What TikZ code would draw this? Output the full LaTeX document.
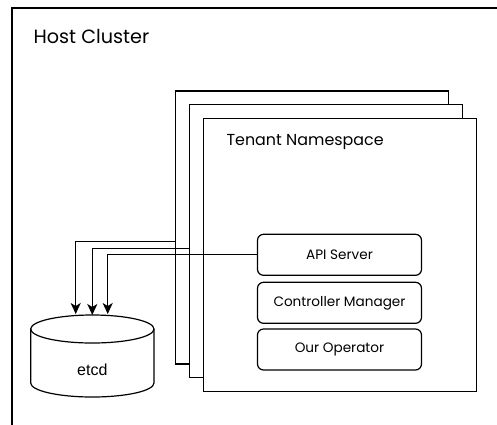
\documentclass[tikz,border=0pt]{standalone}
\usepackage{fontspec}
\setmainfont{Poppins}
\newfontfamily\etcdfont{Liberation Sans}
\usetikzlibrary{arrows.meta}
\begin{document}
\begin{tikzpicture}[x=1pt,y=-1pt,
  line width=1.2pt,
  ns/.style={draw, fill=white, minimum width=273pt, minimum height=273pt, inner sep=0pt},
  comp/.style={draw, fill=white, rounded corners=6pt, minimum width=164pt, minimum height=41pt, inner sep=0pt, font=\fontsize{13.6}{15}\selectfont},
  arr/.style={-{Stealth[length=11pt,width=10pt,inset=3pt]}, line width=1.2pt},
  lbl/.style={anchor=base west, inner sep=0pt}]
\useasboundingbox (0,0) rectangle (497,424);
\clip (0,0) rectangle (497,424);
\fill[white] (0,0) rectangle (497,424);
% host cluster
\draw (12,8) rectangle (520,450);
\node[lbl, font=\fontsize{19.2}{21}\selectfont] (host) at (33,43) {Host Cluster};
% tenant namespaces
\node[ns] (back) at (311.8,227.5) {};
\node[ns] (mid) at (325.8,241.2) {};
\node[ns] (front) at (339.6,255) {};
\node[lbl, font=\fontsize{15.9}{18}\selectfont] (tenant) at (226,145) {Tenant Namespace};
% components
\node[comp] (api) at (339.5,254.8) {API Server};
\node[comp] (cm) at (339.5,302.8) {Controller Manager};
\node[comp] (op) at (339.5,349.5) {Our Operator};
% etcd cylinder
\draw[fill=white] (30.7,329) -- (30.7,383) arc[start angle=180, end angle=0, x radius=61.65, y radius=14]
  -- (154,329) arc[start angle=0, end angle=-180, x radius=61.65, y radius=14] -- cycle;
\draw (30.7,329) arc[start angle=180, end angle=0, x radius=61.65, y radius=14];
\node[font=\etcdfont\fontsize{16}{18}\selectfont] (etcd) at (92.3,370) {etcd};
\coordinate (in1) at (75.7,314);
\coordinate (in2) at (92.3,315);
\coordinate (in3) at (107.7,314);
% connectors
\draw[arr] ([yshift=-14.2pt]back.west) -| (in1);
\draw[arr] ([yshift=-7.1pt]mid.west) -| (in2);
\draw[arr] (api.west) -| (in3);
\end{tikzpicture}
\end{document}
